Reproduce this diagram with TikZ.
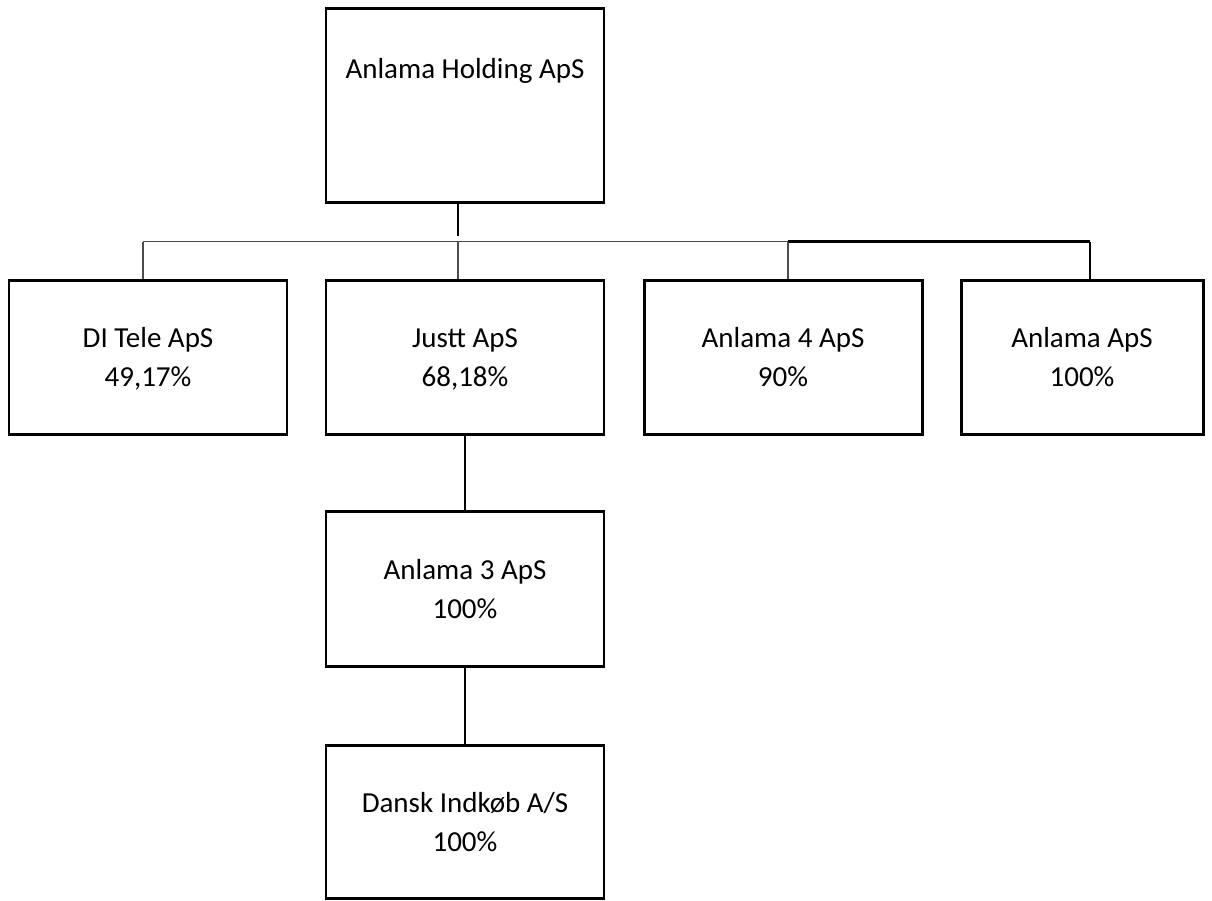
\documentclass[tikz,border=0pt]{standalone}
\usepackage{fontspec}
\setmainfont{Carlito}
\usepackage{xcolor}
\usepackage{tikz}
\definecolor{ink}{HTML}{000000}
\definecolor{muted}{HTML}{4D4D4D}
\tikzset{
  firm/.style={draw=ink, line width=1.7pt, minimum width=5.56cm, minimum height=3.08cm,
    inner sep=0pt, align=center, text height=1.23cm, text depth=0.05cm,
    font=\fontsize{16.5}{22}\selectfont},
  firmtext/.style={font=\fontsize{16.5}{22}\selectfont},
  link/.style={draw=ink, line width=1.7pt},
  rail/.style={draw=muted, line width=0.85pt},
  railb/.style={draw=ink, line width=1.3pt},
  every node/.style={text=ink}
}

\begin{document}
\begin{tikzpicture}
  \useasboundingbox (0,0) rectangle (24.24,-18);
  \coordinate (b1) at (2.86,-4.83);
  \coordinate (b2) at (9.16,-4.83);
  \coordinate (b3) at (15.76,-4.83);
  \coordinate (b4) at (21.8,-4.83);
  \node[firm, minimum height=3.88cm,
    label={[firmtext, anchor=base, yshift=-1.44cm]north:Anlama Holding ApS}] (holding) at (9.3,-2.1) {};
  \node[firm] (ditele) at (2.96,-7.14) {DI Tele ApS\\49,17\%};
  \node[firm] (justt) at (9.3,-7.14) {Justt ApS\\68,18\%};
  \node[firm] (anl4) at (15.66,-7.14) {Anlama 4 ApS\\90\%};
  \node[firm, minimum width=4.84cm] (anl) at (21.64,-7.14) {Anlama ApS\\100\%};
  \node[firm, minimum height=3.1cm] (anl3) at (9.3,-11.77) {Anlama 3 ApS\\100\%};
  \node[firm, minimum height=3.06cm] (dansk) at (9.3,-16.43) {Dansk Indkøb A/S\\100\%};
  \draw[link] (holding.south -| b2) -- ([yshift=0.12cm]b2);
  \draw[rail] (b1) -- (b3);
  \draw[railb] (b3) -- (b4);
  \draw[rail] (b1) -- (ditele.north -| b1);
  \draw[rail] (b2) -- (justt.north -| b2);
  \draw[rail] (b3) -- (anl4.north -| b3);
  \draw[railb] (b4) -- (anl.north -| b4);
  \draw[link] (justt) -- (anl3);
  \draw[link] (anl3) -- (dansk);
\end{tikzpicture}
\end{document}
